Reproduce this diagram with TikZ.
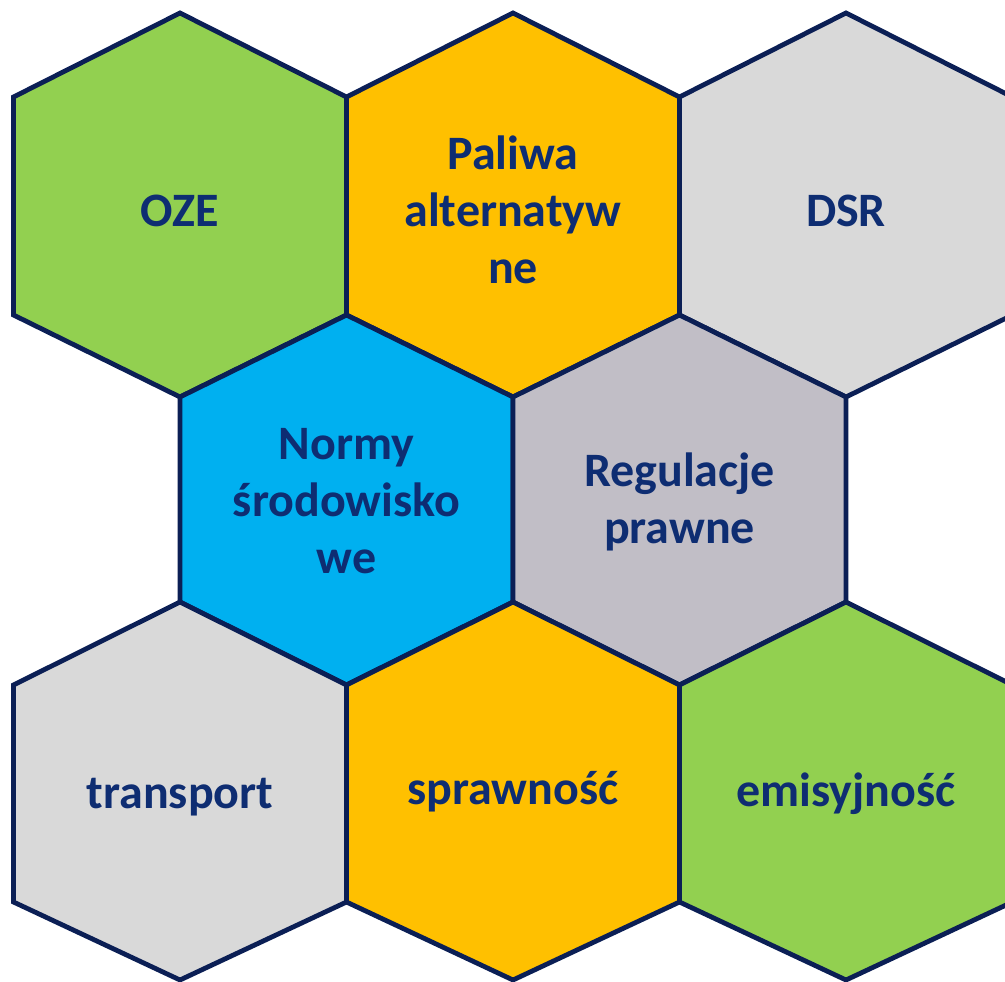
\documentclass[tikz,border=0pt]{standalone}
\usepackage{fontspec}
\setmainfont{Carlito}
\definecolor{hgreen}{HTML}{92D050}
\definecolor{horange}{HTML}{FFC000}
\definecolor{hlgray}{HTML}{D9D9D9}
\definecolor{hblue}{HTML}{00B0F0}
\definecolor{hmauve}{HTML}{C1BEC6}
\definecolor{hedge}{HTML}{0B1F55}
\definecolor{htext}{HTML}{0E2D72}
\tikzset{
  hexshape/.style={draw=hedge, line width=4.8pt, line join=miter},
  hexlabel/.style={text=htext, font=\fontsize{48}{57}\selectfont\bfseries, align=center, inner sep=0pt},
}
% #1 x, #2 top y, #3 upper corner y, #4 lower corner y, #5 bottom y, #6 fill
\newcommand{\hexat}[6]{%
  \fill[#6] (#1,#2) -- (#1+166.5,#3) -- (#1+166.5,#4) -- (#1,#5) -- (#1-166.5,#4) -- (#1-166.5,#3) -- cycle;
  \draw[hexshape] (#1,#2) -- (#1+166.5,#3) -- (#1+166.5,#4) -- (#1,#5) -- (#1-166.5,#4) -- (#1-166.5,#3) -- cycle;
}
\begin{document}
\begin{tikzpicture}[x=1pt,y=-1pt]
\useasboundingbox (0,0) rectangle (1005,982);
\clip (0,0) rectangle (1005,982);
\hexat{180}{13}{97}{315}{397}{hgreen}
\hexat{513}{13}{97}{315}{397}{horange}
\hexat{846}{13}{97}{315}{397}{hlgray}
\hexat{346.5}{315}{397}{602}{685}{hblue}
\hexat{679.5}{315}{397}{602}{685}{hmauve}
\hexat{180}{602}{685}{902}{980}{hlgray}
\hexat{513}{602}{685}{902}{980}{horange}
\hexat{846}{602}{685}{902}{980}{hgreen}
\node[hexlabel] (oze) at (180,211) {OZE};
\node[hexlabel] (paliwa) at (513,210) {Paliwa\\alternatyw\\ne};
\node[hexlabel] (dsr) at (846,211) {DSR};
\node[hexlabel] (normy) at (346.5,501) {Normy\\środowisko\\we};
\node[hexlabel] (regulacje) at (679.5,502) {Regulacje\\prawne};
\node[hexlabel] (transport) at (180,797) {transport};
\node[hexlabel] (sprawnosc) at (513,792) {sprawność};
\node[hexlabel] (emisyjnosc) at (846,794) {emisyjność};
\end{tikzpicture}
\end{document}
